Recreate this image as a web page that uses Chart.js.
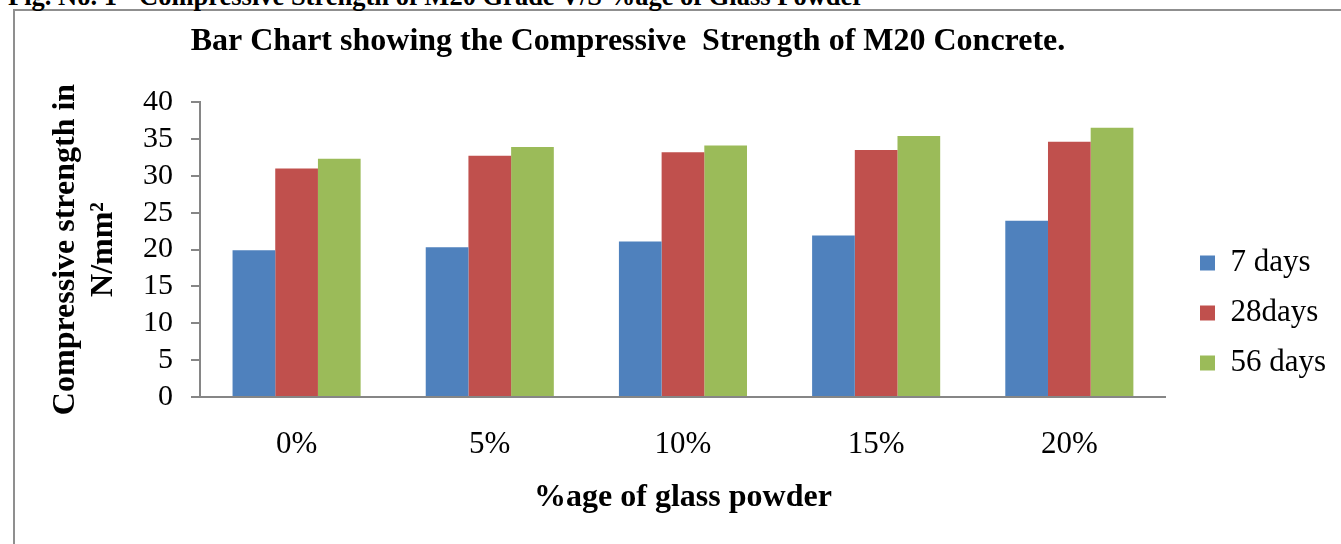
<!DOCTYPE html>
<html>
<head>
<meta charset="utf-8">
<script src="https://cdn.jsdelivr.net/npm/chart.js@4"></script>
<style>
  body { margin:0; background:#fff; overflow:hidden; }
  #wrap { position:relative; width:1341px; height:544px; overflow:hidden; }
  #frame { position:absolute; left:13px; top:9px; width:1400px; height:600px;
           border-left:2px solid #8f8f8f; border-top:2px solid #8f8f8f; }
  #caption { position:absolute; left:8px; top:-17.5px; white-space:nowrap;
             font:bold 26.5px "Liberation Serif", "Times New Roman", serif; line-height:26.5px; }
  #box { position:absolute; left:0; top:0; width:1341px; height:544px; }
</style>
</head>
<body>
<div id="wrap">
  <div id="frame"></div>
  <div id="caption">Fig. No. 1 - Compressive Strength of M20 Grade V/S %age of Glass Powder</div>
  <div id="box"><canvas id="grafico"></canvas></div>
</div>
<script>
const categorias = ["0%", "5%", "10%", "15%", "20%"];
const dias7  = [19.9, 20.3, 21.1, 21.9, 23.9];
const dias28 = [31.0, 32.7, 33.2, 33.5, 34.6];
const dias56 = [32.3, 33.9, 34.1, 35.4, 36.5];

const serif = '"Liberation Serif", "Times New Roman", serif';
const cinza = '#868686';

// move title and legend to where Excel put them
const posicionar = {
  id: 'posicionar',
  afterLayout(chart){
    const t = chart.titleBlock;
    const dx = 628 - (t.left + t.right) / 2;
    t.left += dx; t.right += dx;
    const l = chart.legend;
    const lx = 1181 - l.left;
    l.left += lx; l.right += lx;
    l.top += 41; l.bottom += 41;
  }
};

new Chart(document.getElementById("grafico"), {
  type: 'bar',
  data: {
    labels: categorias,
    datasets: [
      { label: '7 days',  data: dias7,  backgroundColor: '#4F81BD' },
      { label: '28days',  data: dias28, backgroundColor: '#C0504D' },
      { label: '56 days', data: dias56, backgroundColor: '#9BBB59' }
    ]
  },
  plugins: [posicionar],
  options: {
    responsive: true,
    maintainAspectRatio: false,
    animation: false,
    layout: { padding: { left: 44, right: 20, top: 0, bottom: 0 } },
    datasets: { bar: { barPercentage: 1, categoryPercentage: 0.663, borderWidth: 0 } },
    plugins: {
      tooltip: { enabled: false },
      title: {
        display: true,
        text: 'Bar Chart showing the Compressive  Strength of M20 Concrete.',
        color: '#000',
        font: { family: serif, size: 32, weight: 'bold', lineHeight: 1.2 },
        padding: { top: 22.8, bottom: 40.8 }
      },
      legend: {
        position: 'right',
        labels: {
          color: '#000',
          boxWidth: 15, boxHeight: 15,
          padding: 19,
          font: { family: serif, size: 31 }
        }
      }
    },
    scales: {
      x: {
        grid: { display: false, drawTicks: false },
        border: { display: true, color: cinza, width: 2 },
        ticks: { color: '#000', padding: 29, font: { family: serif, size: 31 } },
        title: {
          display: true,
          text: '%age of glass powder',
          color: '#000',
          font: { family: serif, size: 32, weight: 'bold', lineHeight: 1.2 },
          padding: { top: 0, bottom: 27.3 }
        },
        afterFit(s){ s.height = 147; }
      },
      y: {
        min: 0, max: 40,
        grid: { drawOnChartArea: false, drawTicks: true, tickLength: 9, tickColor: cinza, lineWidth: 2 },
        border: { display: true, color: cinza, width: 2 },
        ticks: { stepSize: 5, autoSkip: false, color: '#000', padding: 18, font: { family: serif, size: 30 } },
        title: {
          display: true,
          text: ['Compressive strength in', 'N/mm²'],
          color: '#000',
          font: { family: serif, size: 32, weight: 'bold', lineHeight: 1.19 },
          padding: { top: 3, bottom: 0 }
        },
        afterFit(s){ s.width = 156; }
      }
    }
  }
});
</script>
</body>
</html>
